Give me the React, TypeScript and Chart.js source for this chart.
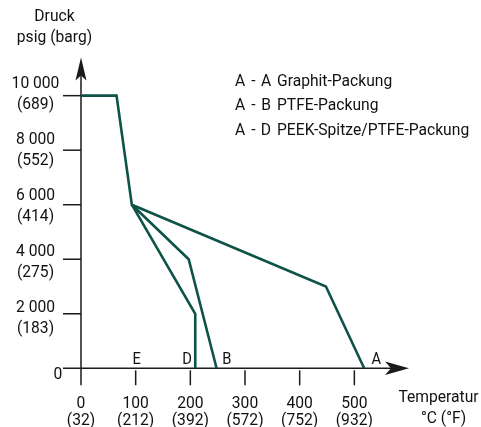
import React, { useEffect, useRef } from "react";
import { Chart, registerables } from "chart.js";

Chart.register(...registerables);

const FONT = "Roboto, 'DejaVu Sans', sans-serif";
const SQUEEZE = 0.92;
const LINE_COLOR = "#0e5347";
const AXIS_COLOR = "#1a1a1a";

// Series (temperature °C, pressure psig)
const seriesA_x = [0, 65, 93, 448, 518];
const seriesA_y = [10000, 10000, 6000, 3000, 0];
const seriesB_x = [93, 197, 248];
const seriesB_y = [6000, 4000, 0];
const seriesD_x = [93, 209, 209];
const seriesD_y = [6000, 2000, 0];

// Axis ticks
const xTicks = [0, 100, 200, 300, 400, 500];
const xLabelsC = ["0", "100", "200", "300", "400", "500"];
const xLabelsF = ["(32)", "(212)", "(392)", "(572)", "(752)", "(932)"];
const yTicks = [2000, 4000, 6000, 8000, 10000];
const yLabelsPsig = ["2 000", "4 000", "6 000", "8 000", "10 000"];
const yLabelsBarg = ["(183)", "(275)", "(414)", "(552)", "(689)"];

// Curve end-point letters (x position in °C)
const markLetters = ["E", "D", "B", "A"];
const markX = [102, 194, 267, 540];

// Legend
const legendFrom = ["A", "A", "A"];
const legendTo = ["A", "B", "D"];
const legendNames = ["Graphit-Packung", "PTFE-Packung", "PEEK-Spitze/PTFE-Packung"];

const X_MAX = 600;
const Y_MAX = 11400;

const toPts = (xs: number[], ys: number[]) => xs.map((x, i) => ({ x, y: ys[i] }));

function txt(ctx: CanvasRenderingContext2D, t: string, x: number, y: number, align: CanvasTextAlign, size = 17) {
  ctx.save();
  ctx.translate(x, y);
  ctx.scale(SQUEEZE, 1);
  ctx.font = `${size}px ${FONT}`;
  ctx.textAlign = align;
  ctx.textBaseline = "alphabetic";
  ctx.fillText(t, 0, 0);
  ctx.restore();
}

const axesPlugin = {
  id: "customAxes",
  beforeDatasetsDraw(chart: any) {
    const { ctx, scales } = chart;
    const xs = scales.x;
    const ys = scales.y;
    const x0 = xs.getPixelForValue(0);
    const y0 = ys.getPixelForValue(0);
    const xEnd = xs.getPixelForValue(X_MAX);
    const yEnd = ys.getPixelForValue(Y_MAX);
    ctx.save();
    ctx.strokeStyle = AXIS_COLOR;
    ctx.fillStyle = AXIS_COLOR;
    ctx.lineWidth = 1.5;
    // y axis
    ctx.beginPath();
    ctx.moveTo(x0, y0 + 17);
    ctx.lineTo(x0, yEnd + 14);
    ctx.stroke();
    // x axis
    ctx.beginPath();
    ctx.moveTo(x0 - 18, y0);
    ctx.lineTo(xEnd - 14, y0);
    ctx.stroke();
    // arrows
    ctx.beginPath();
    ctx.moveTo(x0, yEnd);
    ctx.lineTo(x0 + 5.5, yEnd + 23);
    ctx.lineTo(x0, yEnd + 18);
    ctx.lineTo(x0 - 5.5, yEnd + 23);
    ctx.closePath();
    ctx.fill();
    ctx.beginPath();
    ctx.moveTo(xEnd, y0);
    ctx.lineTo(xEnd - 24, y0 - 6.7);
    ctx.lineTo(xEnd - 18, y0);
    ctx.lineTo(xEnd - 24, y0 + 6.7);
    ctx.closePath();
    ctx.fill();
    // y ticks
    yTicks.forEach((v) => {
      const py = ys.getPixelForValue(v);
      ctx.beginPath();
      ctx.moveTo(x0 - 18, py);
      ctx.lineTo(x0, py);
      ctx.stroke();
    });
    // x ticks
    xTicks.forEach((v) => {
      if (v === 0) return;
      const px = xs.getPixelForValue(v);
      ctx.beginPath();
      ctx.moveTo(px, y0 + 2);
      ctx.lineTo(px, y0 + 17);
      ctx.stroke();
    });
    ctx.restore();
  },
  afterDraw(chart: any) {
    const { ctx, scales } = chart;
    const xs = scales.x;
    const ys = scales.y;
    const x0 = xs.getPixelForValue(0);
    const y0 = ys.getPixelForValue(0);
    ctx.save();
    ctx.fillStyle = "#111";
    // y labels
    yTicks.forEach((v, i) => {
      const py = ys.getPixelForValue(v);
      const off = -8 + (1.5 * (10000 - v)) / 2000;
      txt(ctx, yLabelsPsig[i], x0 - 45.5, py + off, "center");
      txt(ctx, yLabelsBarg[i], x0 - 45.5, py + off + 21.5, "center");
    });
    txt(ctx, "0", x0 - 23, y0 + 11, "center");
    // x labels
    xTicks.forEach((v, i) => {
      const px = xs.getPixelForValue(v);
      txt(ctx, xLabelsC[i], px, y0 + 40, "center");
      txt(ctx, xLabelsF[i], px, y0 + 57, "center");
    });
    // axis titles
    txt(ctx, "Druck", x0 - 26.5, 21, "center");
    txt(ctx, "psig (barg)", x0 - 26.5, 41.5, "center");
    txt(ctx, "Temperatur", 438.5, 401.5, "center");
    txt(ctx, "°C (°F)", 443.5, 423, "center");
    // legend
    const rowBase = [85.5, 110, 134.7];
    legendNames.forEach((name, i) => {
      const by = rowBase[i];
      txt(ctx, legendFrom[i], 240, by, "center");
      txt(ctx, "-", 253.3, by, "center");
      txt(ctx, legendTo[i], 266, by, "center");
      txt(ctx, name, 277, by, "left");
    });
    // letters
    markLetters.forEach((l, i) => {
      txt(ctx, l, xs.getPixelForValue(markX[i]), y0 - 4, "center", 16);
    });
    ctx.restore();
  },
};

export default function App() {
  const ref = useRef<HTMLCanvasElement | null>(null);
  useEffect(() => {
    if (!ref.current) return;
    const ds = (data: any) => ({
      data,
      showLine: true,
      borderColor: LINE_COLOR,
      borderWidth: 2.6,
      pointRadius: 0,
      fill: false,
      tension: 0,
      borderJoinStyle: "miter" as const,
    });
    const chart = new Chart(ref.current, {
      type: "scatter",
      data: {
        datasets: [
          ds(toPts(seriesA_x, seriesA_y)),
          ds(toPts(seriesB_x, seriesB_y)),
          ds(toPts(seriesD_x, seriesD_y)),
        ],
      },
      options: {
        animation: false,
        responsive: false,
        devicePixelRatio: 1,
        layout: { padding: { left: 81, right: 72, top: 57.5, bottom: 58.7 } },
        plugins: { legend: { display: false }, tooltip: { enabled: false } },
        scales: {
          x: { type: "linear", min: 0, max: X_MAX, display: false },
          y: { type: "linear", min: 0, max: Y_MAX, display: false },
        },
      },
      plugins: [axesPlugin],
    });
    return () => chart.destroy();
  }, []);
  return (
    <div style={{ position: "fixed", left: 0, top: 0, width: 481, height: 427, background: "#fff" }}>
      <canvas ref={ref} width={481} height={427} style={{ display: "block" }} />
    </div>
  );
}
